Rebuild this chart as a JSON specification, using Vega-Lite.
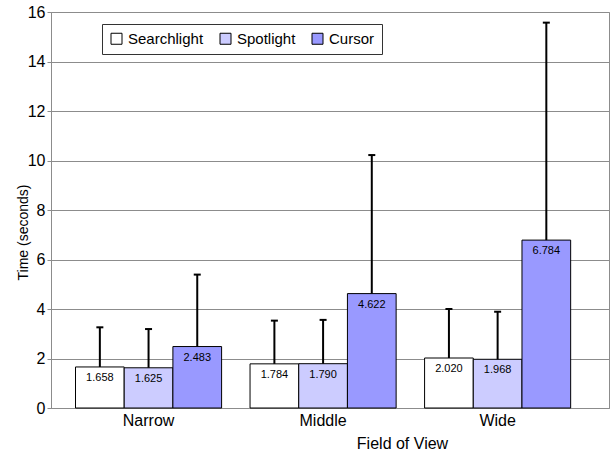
{
  "$schema": "https://vega.github.io/schema/vega-lite/v6.json",
  "width": 558,
  "height": 396,
  "autosize": {"type": "none"},
  "padding": {"left": 51, "top": 12, "right": 2, "bottom": 46},
  "background": "white",
  "config": {
    "font": "Liberation Sans",
    "view": {"stroke": "#8c8c8c", "strokeWidth": 1},
    "axis": {"labelColor": "black", "titleColor": "black", "titleFontWeight": "normal", "domainColor": "#8c8c8c", "tickColor": "#8c8c8c", "gridColor": "#8c8c8c", "labelFont": "Liberation Sans", "titleFont": "Liberation Sans"}
  },
  "data": {
    "values": [
      {"fov": "Narrow", "technique": "Searchlight", "mean": 1.658, "high": 3.26},
      {"fov": "Narrow", "technique": "Spotlight", "mean": 1.625, "high": 3.19},
      {"fov": "Narrow", "technique": "Cursor", "mean": 2.483, "high": 5.39},
      {"fov": "Middle", "technique": "Searchlight", "mean": 1.784, "high": 3.53},
      {"fov": "Middle", "technique": "Spotlight", "mean": 1.790, "high": 3.56},
      {"fov": "Middle", "technique": "Cursor", "mean": 4.622, "high": 10.22},
      {"fov": "Wide", "technique": "Searchlight", "mean": 2.020, "high": 4.00},
      {"fov": "Wide", "technique": "Spotlight", "mean": 1.968, "high": 3.89},
      {"fov": "Wide", "technique": "Cursor", "mean": 6.784, "high": 15.57}
    ]
  },
  "encoding": {
    "x": {
      "field": "fov", "type": "nominal", "sort": ["Narrow", "Middle", "Wide"],
      "scale": {"paddingInner": 0.163, "paddingOuter": 0.18, "align": 0.39},
      "axis": {"title": "Field of View", "labelAngle": 0, "ticks": false, "labelFontSize": 16, "labelPadding": 4, "titleFontSize": 16, "titleX": 351, "titleY": 35, "titleAlign": "center", "titleBaseline": "middle"}
    },
    "xOffset": {
      "field": "technique", "type": "nominal", "sort": ["Searchlight", "Spotlight", "Cursor"],
      "scale": {"paddingInner": 0, "paddingOuter": 0}
    }
  },
  "layer": [
    {
      "mark": {"type": "bar", "stroke": "black", "strokeWidth": 1},
      "encoding": {
        "y": {
          "field": "mean", "type": "quantitative",
          "scale": {"domain": [0, 16], "nice": false},
          "axis": {"title": "Time (seconds)", "values": [0, 2, 4, 6, 8, 10, 12, 14, 16], "grid": true, "tickSize": 4, "labelFontSize": 16, "labelPadding": 2, "titleFontSize": 14, "titleX": -28, "titleY": 220, "titleAlign": "center", "titleBaseline": "middle", "titleAngle": -90}
        },
        "color": {
          "field": "technique", "type": "nominal",
          "sort": ["Searchlight", "Spotlight", "Cursor"],
          "scale": {"domain": ["Searchlight", "Spotlight", "Cursor"], "range": ["#ffffff", "#ccccff", "#9999ff"]},
          "legend": {"orient": "none", "legendX": 51, "legendY": 12, "direction": "horizontal", "title": null, "strokeColor": "#333333", "fillColor": "white", "padding": 7, "symbolType": "square", "symbolSize": 121, "symbolStrokeColor": "black", "symbolStrokeWidth": 1, "symbolOpacity": 1, "labelFontSize": 15, "labelOffset": 4, "columnPadding": 14, "labelColor": "black", "labelFont": "Liberation Sans"}
        }
      }
    },
    {
      "mark": {"type": "rule", "color": "black", "strokeWidth": 2},
      "encoding": {
        "y": {"field": "mean", "type": "quantitative"},
        "y2": {"field": "high"}
      }
    },
    {
      "mark": {"type": "tick", "color": "black", "thickness": 2, "size": 7, "orient": "horizontal", "opacity": 1},
      "encoding": {
        "y": {"field": "high", "type": "quantitative"}
      }
    },
    {
      "mark": {"type": "text", "baseline": "middle", "dy": 11, "fontSize": 11, "color": "black", "font": "Liberation Sans"},
      "encoding": {
        "y": {"field": "mean", "type": "quantitative"},
        "text": {"field": "mean", "type": "quantitative", "format": ".3f"}
      }
    }
  ]
}
